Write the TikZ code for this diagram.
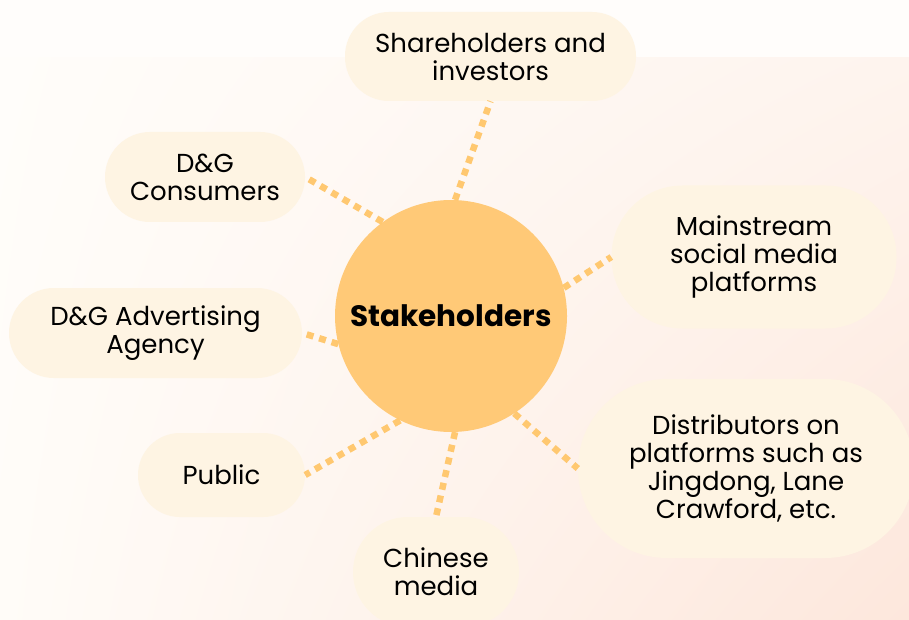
\documentclass[tikz,border=0pt]{standalone}
\usepackage{fontspec}
\setmainfont{Poppins}
\usetikzlibrary{shadings}
\begin{document}
\definecolor{hubfill}{HTML}{FFC977}
\definecolor{pillfill}{HTML}{FEF4E3}
\definecolor{linkcol}{HTML}{FFC870}
\definecolor{bgtop}{HTML}{FFFDFB}
\definecolor{bgul}{HTML}{FFFDFA}
\definecolor{bgur}{HTML}{FEF4EE}
\definecolor{bgll}{HTML}{FFFCF8}
\definecolor{bglr}{HTML}{FDE7DC}
\begin{tikzpicture}[x=1pt,y=-1pt,
  pill/.style={shape=rectangle, fill=pillfill, inner sep=0pt, align=center,
    font=\fontsize{26}{28}\selectfont, text=black},
  hubnode/.style={shape=circle, fill=hubfill, inner sep=0pt, minimum size=232pt,
    font=\fontsize{29.5}{32}\selectfont\bfseries},
  link/.style={draw=linkcol, line width=6.5pt, dash pattern=on 7pt off 6pt}]
% page frame and soft backdrop
\useasboundingbox (0,0) rectangle (909,620);
\clip (0,0) rectangle (909,620);
\fill[bgtop] (0,0) rectangle (909,58);
\shade[upper left=bgul, upper right=bgur, lower left=bgll, lower right=bglr]
  (0,58) rectangle (909,620);

% central hub
\node[hubnode] (hub) at (451,316) {Stakeholders};

% surrounding stakeholder groups
\node[pill, minimum width=291pt, minimum height=89pt, rounded corners=44pt]
  (share) at (490.5,56.5) {Shareholders and\\investors};
\node[pill, minimum width=200pt, minimum height=90pt, rounded corners=45pt]
  (cons) at (205,177) {D\&G\\Consumers};
\node[pill, minimum width=285pt, minimum height=143pt, rounded corners=71pt]
  (msm) at (754,257) {Mainstream\\social media\\platforms};
\node[pill, minimum width=293pt, minimum height=90pt, rounded corners=45pt]
  (adv) at (155.5,333) {D\&G Advertising\\Agency};
\node[pill, minimum width=336pt, minimum height=179pt, rounded corners=89pt]
  (dist) at (746,468.5) {Distributors on\\platforms such as\\Jingdong, Lane\\Crawford, etc.};
\node[pill, minimum width=167pt, minimum height=84pt, rounded corners=42pt]
  (pub) at (221.5,475) {Public};
\node[pill, minimum width=166pt, minimum height=110pt, rounded corners=55pt]
  (cmedia) at (436,572) {Chinese\\media};

% dotted links from the hub
\draw[link] (hub.88)  -- (share.south);
\draw[link] (hub.126) -- (cons.east);
\draw[link] (hub.14)  -- (msm.west);
\draw[link] (hub.194) -- (adv.east);
\draw[link] (hub.244) -- (pub.east);
\draw[link] (hub.272) -- (cmedia.north);
\draw[link] (hub.303) -- (dist.west);
\end{tikzpicture}
\end{document}
